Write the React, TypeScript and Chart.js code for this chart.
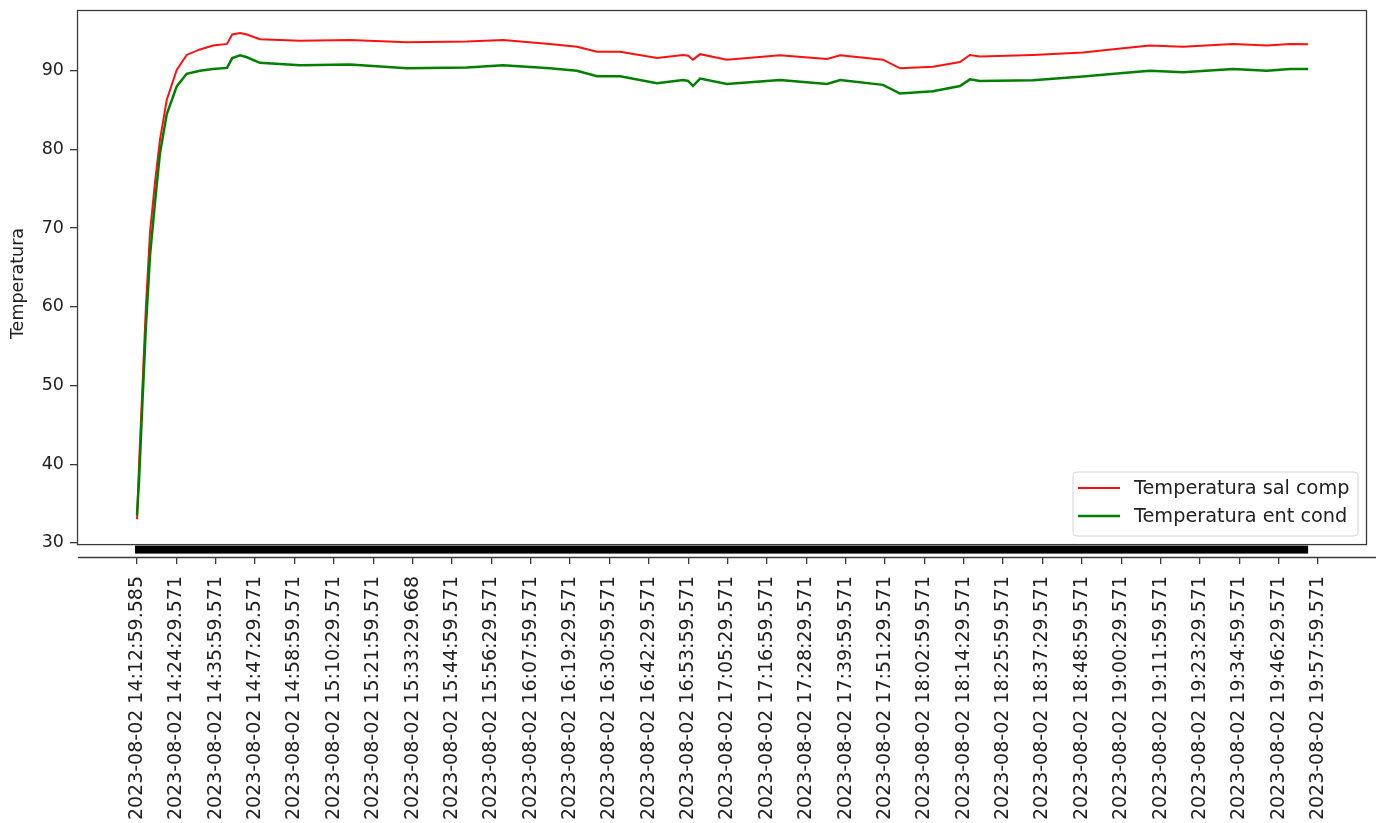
import React, { useEffect, useRef } from "react";
import { Chart, registerables } from "chart.js";

Chart.register(...registerables);

// ---------- data ----------
const tickLabels = [
  "2023-08-02 14:12:59.585",
  "2023-08-02 14:24:29.571",
  "2023-08-02 14:35:59.571",
  "2023-08-02 14:47:29.571",
  "2023-08-02 14:58:59.571",
  "2023-08-02 15:10:29.571",
  "2023-08-02 15:21:59.571",
  "2023-08-02 15:33:29.668",
  "2023-08-02 15:44:59.571",
  "2023-08-02 15:56:29.571",
  "2023-08-02 16:07:59.571",
  "2023-08-02 16:19:29.571",
  "2023-08-02 16:30:59.571",
  "2023-08-02 16:42:29.571",
  "2023-08-02 16:53:59.571",
  "2023-08-02 17:05:29.571",
  "2023-08-02 17:16:59.571",
  "2023-08-02 17:28:29.571",
  "2023-08-02 17:39:59.571",
  "2023-08-02 17:51:29.571",
  "2023-08-02 18:02:59.571",
  "2023-08-02 18:14:29.571",
  "2023-08-02 18:25:59.571",
  "2023-08-02 18:37:29.571",
  "2023-08-02 18:48:59.571",
  "2023-08-02 19:00:29.571",
  "2023-08-02 19:11:59.571",
  "2023-08-02 19:23:29.571",
  "2023-08-02 19:34:59.571",
  "2023-08-02 19:46:29.571",
  "2023-08-02 19:57:59.571",
];

// minutes elapsed since 2023-08-02 14:12:59.585
const elapsedMin = [
  0, 0.6, 1.6, 2.6, 3.8, 5.3, 6.7, 8.7, 11.6, 14.5, 18.4, 22.2, 26.3, 27.8,
  30.1, 32.1, 35.9, 47.6, 62.2, 78.9, 96.4, 106.9, 120.6, 128.5, 134.4, 141.1,
  151.9, 159.5, 161.0, 162.4, 164.5, 172.3, 187.8, 201.6, 205.4, 217.9, 222.9,
  232.5, 240.4, 243.3, 246.2, 261.7, 276.3, 288.0, 295.9, 305.5, 320.1, 330.1,
  336.8, 342.1,
];

const salComp = [
  33.0, 40.0, 50.0, 60.0, 69.5, 76.0, 81.2, 86.3, 90.1, 92.0, 92.7, 93.2, 93.4,
  94.6, 94.8, 94.6, 94.0, 93.8, 93.9, 93.6, 93.7, 93.9, 93.4, 93.05, 92.4, 92.4,
  91.6, 92.0, 91.9, 91.4, 92.1, 91.4, 91.95, 91.5, 91.95, 91.4, 90.3, 90.5,
  91.1, 92.0, 91.8, 92.0, 92.3, 92.85, 93.2, 93.05, 93.4, 93.2, 93.4, 93.35,
];

const entCond = [
  33.5, 38.0, 48.0, 57.5, 66.5, 73.5, 79.5, 84.5, 88.0, 89.6, 90.0, 90.2, 90.35,
  91.6, 91.95, 91.7, 91.0, 90.7, 90.8, 90.3, 90.4, 90.7, 90.3, 90.0, 89.3, 89.3,
  88.4, 88.8, 88.7, 88.05, 89.0, 88.3, 88.8, 88.3, 88.8, 88.2, 87.1, 87.4,
  88.05, 88.9, 88.7, 88.8, 89.25, 89.7, 90.0, 89.8, 90.2, 90.0, 90.2, 90.2,
];

const yTicks = [30, 40, 50, 60, 70, 80, 90];
const seriesNames = ["Temperatura sal comp", "Temperatura ent cond"];
const yTitle = "Temperatura";

// ---------- helpers ----------
const toMinutes = (label: string) => {
  const [h, m, s] = label.split(" ")[1].split(":").map(Number);
  return h * 60 + m + s / 60;
};
const tickMinutes = tickLabels.map((l) => toMinutes(l) - toMinutes(tickLabels[0]));

const FONT = "DejaVu Sans";
const TEXT = "#222";
const SPINE = "#3a3a3a";

const decorPlugin = {
  id: "decor",
  beforeDatasetsDraw(chart: any) {
    const { ctx, chartArea, scales } = chart;
    const x = scales.x;
    const y = scales.y;
    const frameBottom = y.getPixelForValue(29.85);
    ctx.save();
    // dense tick bar under the data range
    const x0 = x.getPixelForValue(elapsedMin[0]) - 2;
    const x1 = x.getPixelForValue(elapsedMin[elapsedMin.length - 1]);
    ctx.fillStyle = "#000";
    ctx.fillRect(x0, frameBottom + 1.5, x1 - x0, 8);
    // lower axis line
    ctx.strokeStyle = SPINE;
    ctx.lineWidth = 1.3;
    ctx.beginPath();
    ctx.moveTo(chartArea.left + 1, chartArea.bottom + 0.5);
    ctx.lineTo(chart.width, chartArea.bottom + 0.5);
    ctx.stroke();
    ctx.restore();
  },
  afterDraw(chart: any) {
    const { ctx, chartArea, scales } = chart;
    const y = scales.y;
    const frameBottom = y.getPixelForValue(29.85);
    ctx.save();
    // plot frame
    ctx.strokeStyle = SPINE;
    ctx.lineWidth = 1.3;
    ctx.strokeRect(
      chartArea.left + 0.5,
      chartArea.top + 0.5,
      chartArea.right - chartArea.left - 1,
      frameBottom - chartArea.top
    );
    // legend
    const bx = 1073, by = 472, bw = 285, bh = 64, r = 4;
    ctx.fillStyle = "rgba(255,255,255,0.85)";
    ctx.strokeStyle = "#d4d4d4";
    ctx.lineWidth = 1;
    ctx.beginPath();
    ctx.moveTo(bx + r, by);
    ctx.lineTo(bx + bw - r, by);
    ctx.quadraticCurveTo(bx + bw, by, bx + bw, by + r);
    ctx.lineTo(bx + bw, by + bh - r);
    ctx.quadraticCurveTo(bx + bw, by + bh, bx + bw - r, by + bh);
    ctx.lineTo(bx + r, by + bh);
    ctx.quadraticCurveTo(bx, by + bh, bx, by + bh - r);
    ctx.lineTo(bx, by + r);
    ctx.quadraticCurveTo(bx, by, bx + r, by);
    ctx.closePath();
    ctx.fill();
    ctx.stroke();
    ctx.font = `19.3px "${FONT}"`;
    ctx.textBaseline = "middle";
    ctx.textAlign = "left";
    chart.data.datasets.forEach((ds: any, i: number) => {
      const ly = by + 16 + i * 28;
      ctx.strokeStyle = ds.borderColor;
      ctx.lineWidth = ds.borderWidth;
      ctx.beginPath();
      ctx.moveTo(bx + 5, ly);
      ctx.lineTo(bx + 47, ly);
      ctx.stroke();
      ctx.fillStyle = TEXT;
      ctx.fillText(ds.label, bx + 61, ly + 1);
    });
    ctx.restore();
  },
};

export default function App() {
  const canvasRef = useRef<HTMLCanvasElement | null>(null);

  useEffect(() => {
    const canvas = canvasRef.current;
    if (!canvas) return;
    const chart = new Chart(canvas, {
      type: "line",
      data: {
        datasets: [
          {
            label: seriesNames[0],
            data: elapsedMin.map((t, i) => ({ x: t, y: salComp[i] })),
            borderColor: "#ff1010",
            backgroundColor: "#ff1010",
            borderWidth: 2,
            pointRadius: 0,
            tension: 0,
            order: 1,
          },
          {
            label: seriesNames[1],
            data: elapsedMin.map((t, i) => ({ x: t, y: entCond[i] })),
            borderColor: "#008000",
            backgroundColor: "#008000",
            borderWidth: 2.5,
            pointRadius: 0,
            tension: 0,
            order: 0,
          },
        ],
      },
      options: {
        animation: false,
        responsive: false,
        maintainAspectRatio: false,
        layout: { padding: { top: 10, right: 9, bottom: 0, left: 0 } },
        plugins: {
          legend: { display: false },
          tooltip: { enabled: false },
        },
        scales: {
          x: {
            type: "linear",
            min: -17.53,
            max: 359.3,
            border: { display: false },
            grid: {
              display: true,
              drawOnChartArea: false,
              drawTicks: true,
              tickLength: 7,
              color: SPINE,
              lineWidth: 1.3,
            },
            afterBuildTicks: (scale: any) => {
              scale.ticks = tickMinutes.map((v) => ({ value: v }));
            },
            afterFit: (scale: any) => {
              scale.height = 266;
              scale.paddingLeft = 0;
              scale.paddingRight = 0;
            },
            ticks: {
              autoSkip: false,
              minRotation: 90,
              maxRotation: 90,
              padding: 12,
              color: TEXT,
              font: { family: FONT, size: 19 },
              callback: (_v: any, i: number) => tickLabels[i],
            },
          },
          y: {
            type: "linear",
            min: 28.21,
            max: 97.71,
            border: { display: false },
            grid: {
              display: true,
              drawOnChartArea: false,
              drawTicks: true,
              tickLength: 7,
              color: SPINE,
              lineWidth: 1.3,
            },
            afterBuildTicks: (scale: any) => {
              scale.ticks = yTicks.map((v) => ({ value: v }));
            },
            afterFit: (scale: any) => {
              scale.width = 77;
              scale.paddingTop = 0;
              scale.paddingBottom = 0;
            },
            ticks: {
              padding: 6,
              color: TEXT,
              font: { family: FONT, size: 17.5 },
            },
            title: {
              display: true,
              text: yTitle,
              color: TEXT,
              font: { family: FONT, size: 17.5 },
              padding: { top: 8, bottom: 0 },
            },
          },
        },
      },
      plugins: [decorPlugin],
    });
    return () => chart.destroy();
  }, []);

  return (
    <div
      style={{
        position: "fixed",
        left: 0,
        top: 0,
        width: 1376,
        height: 823,
        background: "#fff",
      }}
    >
      <canvas ref={canvasRef} width={1376} height={823} style={{ display: "block" }} />
    </div>
  );
}
